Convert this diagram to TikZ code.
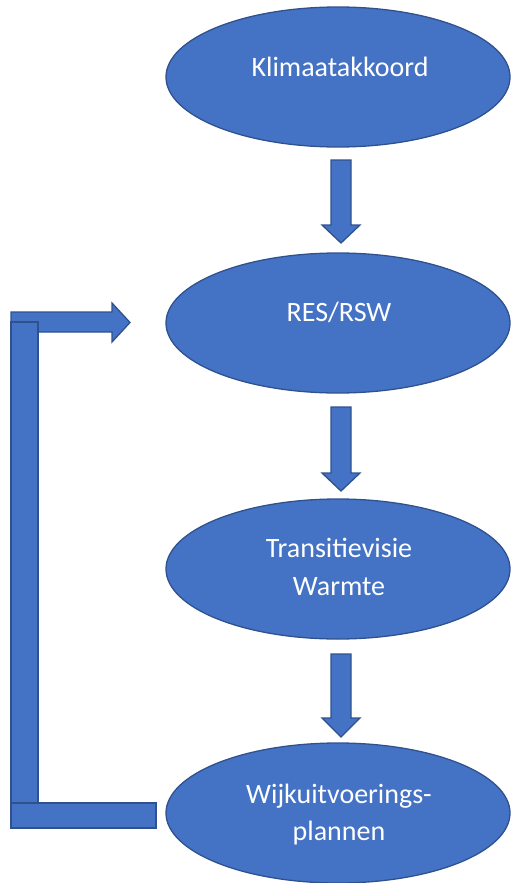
\documentclass[tikz,border=0pt]{standalone}
\usepackage{fontspec}
\setmainfont{Carlito}
\usetikzlibrary{shapes.geometric,calc}
\definecolor{bfill}{HTML}{4472C4}
\definecolor{bline}{HTML}{2F528F}
\tikzset{
  ell/.style={ellipse, fill=bfill, draw=bline, line width=1.3pt, minimum width=344pt, minimum height=140pt, inner sep=0pt},
  txt/.style={text=white, font=\fontsize{28}{37}\selectfont, inner sep=0pt, align=center},
  blk/.style={fill=bfill, draw=bline, line width=1.3pt, line join=miter}
}
\begin{document}
\begin{tikzpicture}[x=1pt,y=-1pt]
\useasboundingbox (0,0) rectangle (511,883);
% ellipses
\node[ell] (k) at (338,77) {};
\node[ell] (r) at (338,323) {};
\node[ell] (t) at (338,569) {};
\node[ell] (w) at (338,813) {};
% texts
\node[txt, anchor=base] (kt) at ($(k.center)+(2,0)$) {Klimaatakkoord};
\node[txt, anchor=base] (rt) at ($(r.center)+(1,-2)$) {RES/RSW};
\node[txt, anchor=base] (tt1) at ($(t.center)+(1,-12)$) {Transitievisie};
\node[txt, anchor=base] (tt2) at ($(t.center)+(1,26)$) {Warmte};
\node[txt, anchor=base] (wt1) at ($(w.center)+(1,-10)$) {Wijkuitvoerings-};
\node[txt, anchor=base] (wt2) at ($(w.center)+(1,27)$) {plannen};
% down block arrows
\foreach \yt/\yh/\yp in {160/225/243, 407/473/491, 654/718/737}{
  \draw[blk] (331,\yt) -- (351,\yt) -- (351,\yh) -- (360,\yh) -- (341,\yp) -- (322,\yh) -- (331,\yh) -- cycle;
}
% feedback loop
\draw[blk] (11,312) -- (112,312) -- (112,303) -- (130,322.5) -- (112,342) -- (112,332) -- (11,332) -- cycle;
\draw[blk] (11,322) rectangle (38,803);
\draw[blk] (11,803) rectangle (156,828);
\end{tikzpicture}
\end{document}
